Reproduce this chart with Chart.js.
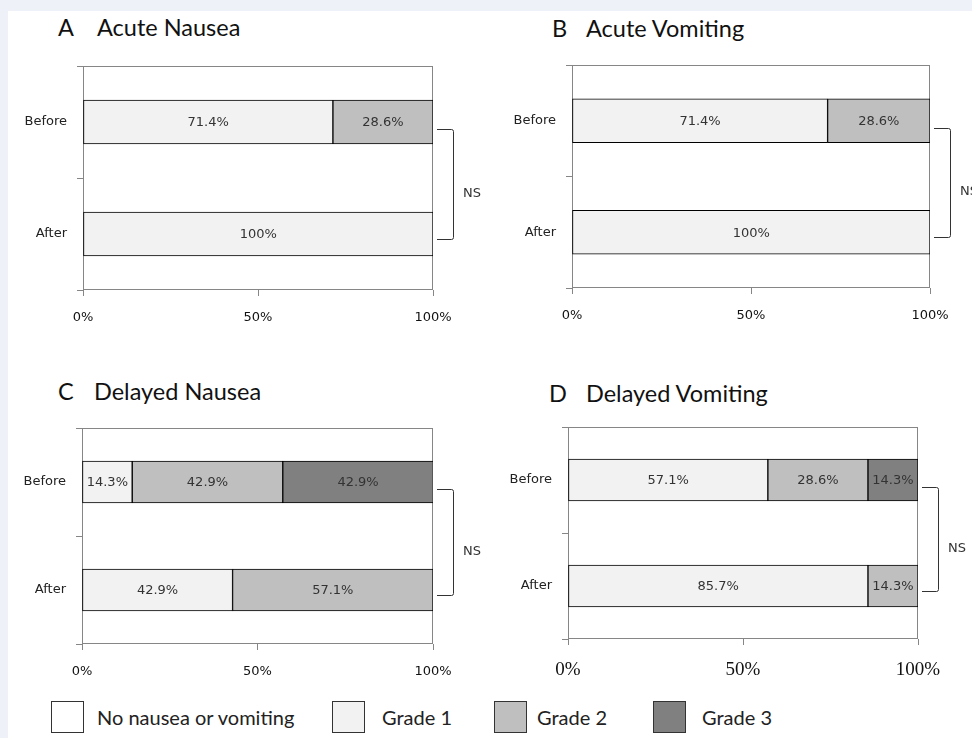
<!DOCTYPE html>
<html>
<head>
<meta charset="utf-8">
<script src="https://cdn.jsdelivr.net/npm/chart.js@4.4.0/dist/chart.umd.min.js"></script>
<style>
  body { margin: 0; width: 972px; height: 738px; overflow: hidden; background: #eff1f8; font-family: Lato, sans-serif; }
  #page { position: absolute; left: 8px; top: 11px; right: 0; bottom: 0; background: #fff; }
  canvas { position: absolute; }
  .title { position: absolute; font-size: 23.5px; line-height: 1; color: #111; white-space: nowrap; }
  .legbox { position: absolute; width: 31px; height: 30px; border: 1px solid #333; }
  .legtext { position: absolute; font-size: 20px; line-height: 1; color: #222; white-space: nowrap; }
</style>
</head>
<body>
<div id="page"></div>
<canvas id="panelA" width="490" height="290" style="left:0;top:56px"></canvas>
<canvas id="panelB" width="482" height="290" style="left:490px;top:56px"></canvas>
<canvas id="panelC" width="490" height="262" style="left:0;top:418px"></canvas>
<canvas id="panelD" width="482" height="262" style="left:490px;top:418px"></canvas>
<script>
// categories and series
const categories = ['Before', 'After'];
const seriesNames = ['No nausea or vomiting', 'Grade 1', 'Grade 2', 'Grade 3'];
const seriesColors = ['#ffffff', '#f2f2f2', '#bfbfbf', '#808080'];
const xTickValues = [0, 50, 100];

// % of patients, [Before, After] for each series: none, grade 1, grade 2, grade 3
const acuteNausea = [[0, 0], [71.4, 100], [28.6, 0], [0, 0]];
const acuteVomiting = [[0, 0], [71.4, 100], [28.6, 0], [0, 0]];
const delayedNausea = [[0, 0], [14.3, 42.9], [42.9, 57.1], [42.9, 0]];
const delayedVomiting = [[0, 0], [57.1, 85.7], [28.6, 14.3], [14.3, 0]];

const panelLetters = ['A', 'B', 'C', 'D'];
const panelTitles = ['Acute Nausea', 'Acute Vomiting', 'Delayed Nausea', 'Delayed Vomiting'];
const significance = ['NS', 'NS', 'NS', 'NS'];

// layout of each panel (pixels)
const panels = [
  { id: 'panelA', values: acuteNausea, padTop: 10, padRight: 57, yW: 83, xH: 56, bar: 44, letterX: 58, titleX: 97, titleY: 16, serif: false },
  { id: 'panelB', values: acuteVomiting, padTop: 9, padRight: 42, yW: 82, xH: 58, bar: 44, letterX: 552, titleX: 586, titleY: 17, serif: false },
  { id: 'panelC', values: delayedNausea, padTop: 10, padRight: 57, yW: 82, xH: 36, bar: 42, letterX: 58, titleX: 94, titleY: 380, serif: false },
  { id: 'panelD', values: delayedVomiting, padTop: 9, padRight: 54, yW: 78, xH: 41, bar: 42, letterX: 549, titleX: 586, titleY: 382, serif: true }
];

const frameColor = '#868686';

const framePlugin = {
  id: 'frame',
  beforeDatasetsDraw(chart) {
    const a = chart.chartArea, ctx = chart.ctx;
    ctx.save();
    ctx.strokeStyle = frameColor;
    ctx.lineWidth = 1;
    ctx.strokeRect(Math.round(a.left) + 0.5, Math.round(a.top) + 0.5, Math.round(a.right - a.left) - 1, Math.round(a.bottom - a.top) - 1);
    ctx.restore();
  }
};

const barLabels = {
  id: 'barLabels',
  afterDatasetsDraw(chart) {
    const ctx = chart.ctx;
    ctx.save();
    ctx.font = '13px "DejaVu Sans"';
    ctx.fillStyle = '#333';
    ctx.textAlign = 'center';
    ctx.textBaseline = 'middle';
    chart.data.datasets.forEach((ds, i) => {
      chart.getDatasetMeta(i).data.forEach((bar, j) => {
        const v = ds.data[j];
        if (!v) return;
        ctx.fillText(v + '%', (bar.x + bar.base) / 2, bar.y + 1);
      });
    });
    ctx.restore();
  }
};

const bracket = {
  id: 'bracket',
  afterDraw(chart, args, opts) {
    const ctx = chart.ctx, a = chart.chartArea, y = chart.scales.y;
    const top = Math.round(y.getPixelForValue(0) + 7) + 0.5;
    const bot = Math.round(y.getPixelForValue(1) + 5) + 0.5;
    const x0 = a.right + 4, x1 = Math.round(a.right + 20) + 0.5;
    ctx.save();
    ctx.strokeStyle = '#333';
    ctx.lineWidth = 1;
    ctx.beginPath();
    ctx.moveTo(x0, top);
    ctx.lineTo(x1 - 2, top);
    ctx.quadraticCurveTo(x1, top, x1, top + 2);
    ctx.lineTo(x1, bot - 2);
    ctx.quadraticCurveTo(x1, bot, x1 - 2, bot);
    ctx.lineTo(x0, bot);
    ctx.stroke();
    ctx.font = '13px "DejaVu Sans"';
    ctx.fillStyle = '#333';
    ctx.textAlign = 'left';
    ctx.textBaseline = 'middle';
    ctx.fillText(opts.text, a.right + 30, (top + bot) / 2 + 9);
    ctx.restore();
  }
};

panels.forEach((p, k) => {
  // titles
  const letter = document.createElement('div');
  letter.className = 'title';
  letter.style.left = p.letterX + 'px';
  letter.style.top = p.titleY + 'px';
  letter.textContent = panelLetters[k];
  document.body.appendChild(letter);
  const title = document.createElement('div');
  title.className = 'title';
  title.style.left = p.titleX + 'px';
  title.style.top = p.titleY + 'px';
  title.textContent = panelTitles[k];
  document.body.appendChild(title);

  const xFont = p.serif ? { family: '"Liberation Serif"', size: 19 } : { family: '"DejaVu Sans"', size: 13 };

  new Chart(document.getElementById(p.id).getContext('2d'), {
    type: 'bar',
    data: {
      labels: categories,
      datasets: seriesNames.map((name, i) => ({
        label: name,
        data: p.values[i],
        backgroundColor: seriesColors[i],
        borderColor: '#000',
        borderWidth: 1,
        borderSkipped: false,
        barThickness: p.bar
      }))
    },
    options: {
      indexAxis: 'y',
      responsive: false,
      animation: false,
      devicePixelRatio: 1,
      layout: { padding: { top: p.padTop, right: p.padRight, left: 0, bottom: 0 } },
      plugins: {
        legend: { display: false },
        tooltip: { enabled: false },
        bracket: { text: significance[k] }
      },
      scales: {
        x: {
          stacked: true,
          min: 0,
          max: 100,
          afterBuildTicks: (s) => { s.ticks = xTickValues.map(v => ({ value: v })); },
          afterFit: (s) => { s.height = p.xH; s.paddingLeft = 0; s.paddingRight = 0; },
          border: { display: false },
          grid: { drawOnChartArea: false, drawTicks: true, tickLength: 6, color: frameColor },
          ticks: { padding: 14, color: '#111', font: xFont, maxRotation: 0, callback: (v) => v + '%' }
        },
        y: {
          stacked: true,
          afterFit: (s) => { s.width = p.yW; s.paddingTop = 0; s.paddingBottom = 0; },
          border: { display: false },
          grid: { drawOnChartArea: false, drawTicks: true, tickLength: 6, color: frameColor, offset: true },
          ticks: { padding: 10, color: '#222', font: { family: '"DejaVu Sans"', size: 13 } }
        }
      }
    },
    plugins: [framePlugin, barLabels, bracket]
  });
});

// shared legend
const legendBoxX = [51, 332, 494, 653];
const legendTextX = [97, 382, 537, 702];
seriesNames.forEach((name, i) => {
  const box = document.createElement('div');
  box.className = 'legbox';
  box.style.left = legendBoxX[i] + 'px';
  box.style.top = '701px';
  box.style.background = seriesColors[i];
  document.body.appendChild(box);
  const t = document.createElement('div');
  t.className = 'legtext';
  t.style.left = legendTextX[i] + 'px';
  t.style.top = '707px';
  t.textContent = name;
  document.body.appendChild(t);
});
</script>
</body>
</html>
